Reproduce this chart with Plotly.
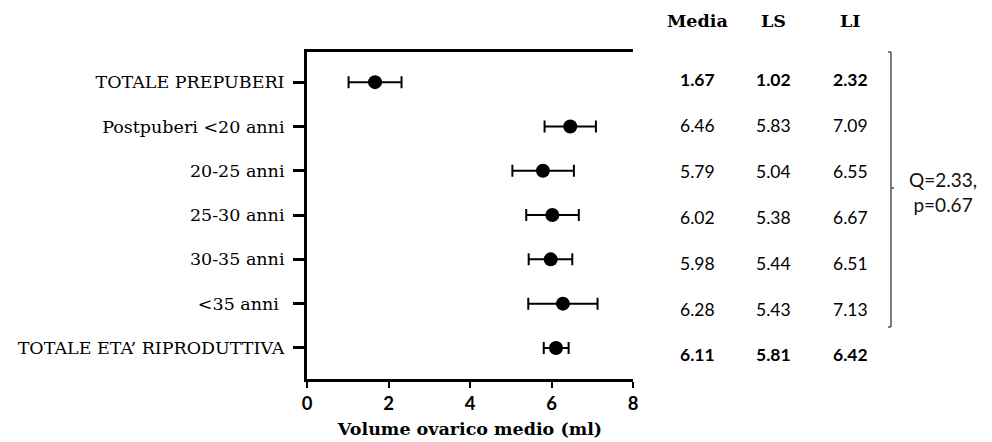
import plotly.graph_objects as go

categories = ["TOTALE PREPUBERI", "Postpuberi <20 anni", "20-25 anni", "25-30 anni",
              "30-35 anni", "<35 anni\u00a0", "TOTALE ETA\u2019 RIPRODUTTIVA"]
media = [1.67, 6.46, 5.79, 6.02, 5.98, 6.28, 6.11]
ls_vals = [1.02, 5.83, 5.04, 5.38, 5.44, 5.43, 5.81]
li_vals = [2.32, 7.09, 6.55, 6.67, 6.51, 7.13, 6.42]
bold_rows = [0, 6]
headers = ["Media", "LS", "LI"]
x_ticks = [0, 2, 4, 6, 8]
q_text = "Q=2.33,<br>p=0.67"

W, H = 992, 442
L, R, T, B = 307, 359, 52, 63
pw, ph = W - L - R, H - T - B

def px_x(px):
    return (px - L) / pw

def px_y(py):
    return 1 - (py - T) / ph

ypos = list(range(len(categories)))

fig = go.Figure()
fig.add_trace(go.Scatter(
    x=media, y=ypos, mode="markers",
    marker=dict(size=14, color="black", symbol="circle"),
    error_x=dict(type="data", symmetric=False,
                 array=[u - m for u, m in zip(li_vals, media)],
                 arrayminus=[m - l for m, l in zip(media, ls_vals)],
                 color="black", thickness=2, width=6),
    showlegend=False, hoverinfo="skip"))

annotations = []
col_x = [697, 773, 850]
for j, h in enumerate(headers):
    annotations.append(dict(text=h, x=px_x(col_x[j]), y=px_y(21), xref="paper", yref="paper",
                            showarrow=False, xanchor="center", yanchor="middle",
                            font=dict(family="DejaVu Serif", size=17.5, color="black", weight="bold")))
cols = [media, ls_vals, li_vals]
for i in range(len(categories)):
    row_py = 80 + i * 45.8
    for j, col in enumerate(cols):
        annotations.append(dict(text=f"{col[i]:.2f}", x=px_x(col_x[j]), y=px_y(row_py),
                                xref="paper", yref="paper", showarrow=False,
                                xanchor="center", yanchor="middle",
                                font=dict(family="Lato", size=17.5, color="black",
                                          weight="bold" if i in bold_rows else "normal")))
annotations.append(dict(text=q_text, x=px_x(943), y=px_y(192), xref="paper", yref="paper",
                        showarrow=False, xanchor="center", yanchor="middle", align="center",
                        font=dict(family="Lato", size=19, color="#111")))

bx = 891
shapes = [
    dict(type="line", xref="paper", yref="paper", x0=px_x(bx), x1=px_x(bx),
         y0=px_y(52), y1=px_y(327), line=dict(color="#555", width=1.5)),
    dict(type="line", xref="paper", yref="paper", x0=px_x(bx - 3), x1=px_x(bx),
         y0=px_y(52), y1=px_y(52), line=dict(color="#555", width=1.5)),
    dict(type="line", xref="paper", yref="paper", x0=px_x(bx - 3), x1=px_x(bx),
         y0=px_y(327), y1=px_y(327), line=dict(color="#555", width=1.5)),
    dict(type="line", xref="paper", yref="paper", x0=px_x(bx), x1=px_x(bx + 3),
         y0=px_y(188), y1=px_y(188), line=dict(color="#555", width=1.5)),
]

fig.update_layout(
    width=W, height=H, margin=dict(l=L, r=R, t=T, b=B, autoexpand=False),
    paper_bgcolor="white", plot_bgcolor="white",
    annotations=annotations, shapes=shapes,
    xaxis=dict(range=[0, 8], tickvals=x_ticks, ticktext=[str(v) for v in x_ticks],
               automargin=False,
               showgrid=False, zeroline=False, showline=True, linecolor="black", linewidth=3,
               mirror=True, ticks="outside", ticklen=6, tickwidth=2, tickcolor="black",
               tickfont=dict(family="Lato", size=18.5, color="black", weight="bold"),
               title=dict(text="Volume ovarico medio (ml)", standoff=10,
                          font=dict(family="DejaVu Serif", size=17.5, color="black", weight="bold"))),
    yaxis=dict(range=[6.7, -0.68], tickvals=ypos, ticktext=categories,
               automargin=False,
               showgrid=False, zeroline=False, showline=True, linecolor="black", linewidth=3,
               ticks="outside", ticklen=11, tickwidth=3, tickcolor="black",
               ticklabelstandoff=5,
               tickfont=dict(family="DejaVu Serif", size=17.5, color="black")),
)

fig.write_html("out.html", config={"displayModeBar": False},
               post_script="document.body.style.margin='0';document.body.style.overflow='hidden';")
